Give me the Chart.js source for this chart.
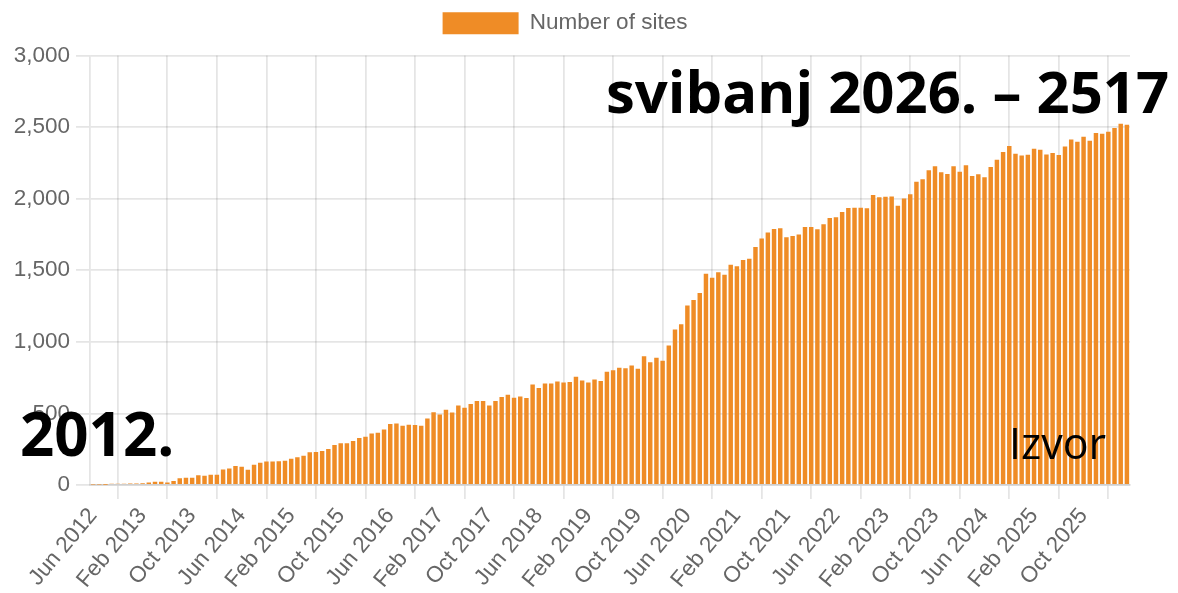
<!DOCTYPE html>
<html>
<head>
<meta charset="utf-8">
<script src="https://cdn.jsdelivr.net/npm/chart.js@4"></script>
<style>
body { margin: 0; background: #fff; }
#wrap { position: relative; width: 1178px; height: 593px; }
.note { position: absolute; font-family: "Open Sans", sans-serif; color: #000; line-height: 1; white-space: nowrap; }
</style>
</head>
<body>
<div id="wrap">
	<canvas id="bar-chart" width="1178" height="593"></canvas>
	<div class="note" style="left:606px; top:62px; font-size:58px; font-weight:700;">svibanj 2026. – 2517</div>
	<div class="note" style="left:20px; top:403px; font-size:60px; font-weight:700;">2012.</div>
	<div class="note" style="left:1009px; top:421px; font-size:43px;">Izvor</div>
</div>
<script>
// monthly count of sites, Jun 2012 .. May 2026

var seriesName = "Number of sites";
var monthNames = ["Jan", "Feb", "Mar", "Apr", "May", "Jun", "Jul", "Aug", "Sep", "Oct", "Nov", "Dec"];
var firstYear = 2012;
var firstMonth = 5; // Jun
var labelEvery = 8;

var sites = [
	4, 4, 1, 8, 8, 8, 10, 10, 12, 18,
	22, 22, 18, 28, 48, 50, 50, 68, 64, 72,
	72, 108, 116, 133, 128, 107, 142, 156, 165, 165,
	166, 170, 184, 193, 205, 228, 230, 238, 251, 279,
	291, 291, 307, 328, 337, 360, 365, 388, 426, 430,
	414, 421, 419, 414, 465, 509, 493, 526, 507, 556,
	540, 565, 586, 586, 556, 586, 614, 630, 609, 619,
	607, 702, 677, 709, 709, 723, 716, 719, 756, 730,
	716, 737, 726, 791, 802, 819, 816, 835, 812, 900,
	858, 888, 867, 974, 1086, 1123, 1254, 1293, 1341, 1475,
	1447, 1486, 1468, 1538, 1528, 1571, 1581, 1662, 1721, 1763,
	1788, 1793, 1731, 1740, 1749, 1802, 1802, 1787, 1821, 1865,
	1871, 1907, 1934, 1936, 1936, 1933, 2026, 2010, 2014, 2016,
	1951, 2002, 2031, 2119, 2135, 2198, 2226, 2184, 2172, 2226,
	2188, 2233, 2158, 2170, 2149, 2221, 2272, 2326, 2368, 2314,
	2302, 2307, 2349, 2342, 2309, 2319, 2305, 2365, 2414, 2398,
	2433, 2405, 2458, 2454, 2468, 2493, 2523, 2517
];

var months = [];
for (var k = 0; k < sites.length; k++) {
	var m = firstMonth + k;
	months.push(monthNames[m % 12] + " " + (firstYear + Math.floor(m / 12)));
}

var gridColor = "rgba(0,0,0,0.1)";
var tickFont = { family: "'Liberation Sans', Arial, sans-serif", size: 22.5 };

// a bit more room under the legend
var legendGap = {
	id: 'legendGap',
	beforeLayout: function(chart) {
		var legend = chart.legend;
		if (!legend || legend._gapDone) return;
		var fit = legend.fit;
		legend.fit = function() {
			fit.call(this);
			this.height += 11;
		};
		legend._gapDone = true;
	}
};

// x grid lines sit halfway between the shown labels
function xGrid(ctx) {
	return ctx.index % labelEvery === labelEvery / 2 ? gridColor : "rgba(0,0,0,0)";
}

new Chart(document.getElementById("bar-chart"), {
	type: 'bar',
	data: {
		labels: months,
		datasets: [{
			label: seriesName,
			data: sites,
			backgroundColor: "#ef8c26",
			borderWidth: 0
		}]
	},
	options: {
		responsive: false,
		animation: false,
		devicePixelRatio: 1,
		locale: 'en-US',
		layout: { padding: { top: 0, right: 48, left: 0, bottom: 0 } },
		plugins: {
			legend: {
				labels: {
					font: tickFont,
					color: "#666",
					boxWidth: 76,
					boxHeight: 22,
					padding: 12
				}
			},
			tooltip: { enabled: false }
		},
		scales: {
			x: {
				grid: { offset: false, color: xGrid, lineWidth: 1.8, tickLength: 14 },
				border: { color: gridColor, width: 1.8 },
				ticks: {
					font: tickFont,
					color: "#666",
					minRotation: 50,
					maxRotation: 50,
					autoSkip: false,
					padding: 4,
					callback: function(value, index) {
						return index % labelEvery === 0 ? this.getLabelForValue(value) : '';
					}
				},
				afterFit: function(scale) { scale.height = 108; }
			},
			y: {
				min: 0,
				max: 3000,
				grid: { color: gridColor, lineWidth: 1.8, tickLength: 14 },
				border: { color: gridColor, width: 1.8 },
				ticks: { stepSize: 500, font: tickFont, color: "#666", padding: 6 },
				afterFit: function(scale) { scale.width = 90; }
			}
		}
	},
	plugins: [legendGap]
});
</script>
</body>
</html>
